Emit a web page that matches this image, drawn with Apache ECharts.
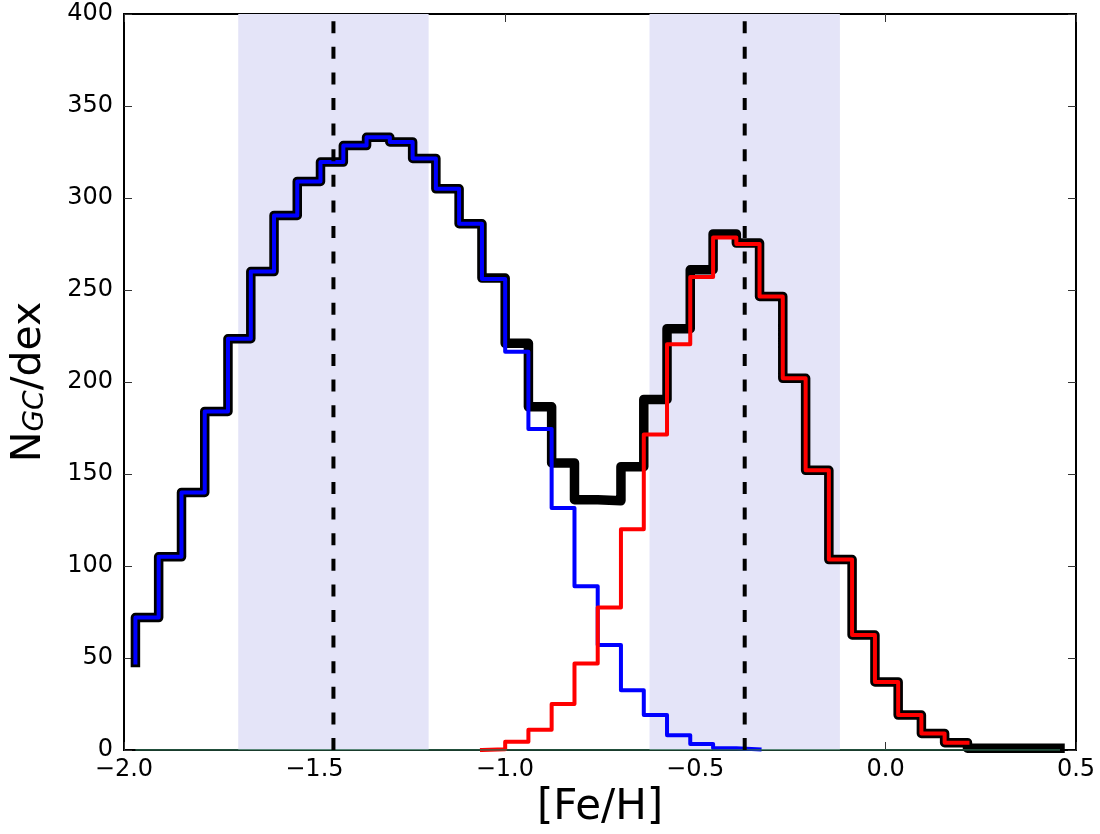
<!DOCTYPE html>
<html><head><meta charset="utf-8">
<script src="https://cdn.jsdelivr.net/npm/echarts@6/dist/echarts.min.js"></script>
<style>html,body{margin:0;padding:0;background:#fff}#c{width:1100px;height:834px}</style>
</head><body><div id="c"></div>
<script>
// Bin edges ([Fe/H])
const binEdges = [-1.970,-1.909,-1.849,-1.788,-1.727,-1.667,-1.606,-1.545,-1.484,-1.424,
  -1.363,-1.302,-1.242,-1.181,-1.120,-1.060,-0.999,-0.938,-0.877,-0.817,
  -0.756,-0.695,-0.635,-0.574,-0.513,-0.453,-0.392,-0.331,-0.270,-0.210,
  -0.149,-0.088,-0.028,0.033,0.094,0.155,0.215,0.276,0.337,0.397,0.458];
// Values at each edge (value of the bin ending at that edge), total sample
const totalValues = [47.5,72,105,140,184,223.5,260,290.5,309,319.5,328.5,333,330.5,321.5,305,286,
  256.5,221,186.5,156,136,135.5,154,190.5,229,261,280.5,275.5,246.5,202,152,103.5,62.5,37,19,9,4,1,1,1,1];
// Metal-poor (blue) component, from edge 0
const bluePointsStart = 0;
const blueValues = [47.5,72,105,140,184,223.5,260,290.5,309,319.5,328.5,333,330.5,321.5,305,286,
  256,216.5,174.5,131.5,89,57,32.5,19,8,3.3,1,0.3];
// Metal-rich (red) component, from edge 15
const redPointsStart = 15;
const redValues = [0,0.4,4.5,11,25,47,77.5,120,171.5,220.5,257,278.5,275,246.5,202,152,103.5,62.5,37,19,9,4];
// Shaded ranges and dashed peak markers
const shadedRanges = [[-1.70,-1.20],[-0.62,-0.12]];
const peakLines = [-1.45,-0.37];
const xTicks = {min:-2.0,max:0.5,interval:0.5};
const yTicks = {min:0,max:400,interval:50};

function pts(start, vals){ return vals.map((v,i)=>[binEdges[start+i], v]); }

const FONT = 'DejaVu Sans';
const fmtX = v => (v < -1e-9 ? '\u2212' : '') + Math.abs(v).toFixed(1);
const tick = {show:true, inside:true, length:8, lineStyle:{color:'#333', width:1}};

const chart = echarts.init(document.getElementById('c'), null, {renderer:'canvas'});
const series = [
  {type:'line', data:[], z:1, silent:true,
   markArea:{silent:true, itemStyle:{color:'#e4e4f8'},
     data: shadedRanges.map(r=>[{xAxis:r[0]},{xAxis:r[1]}])}},
  {type:'line', data:pts(0,totalValues), step:'start', symbol:'none', z:3,
   lineStyle:{color:'#000', width:9.5, cap:'square', join:'round'}},
  {type:'line', data:pts(bluePointsStart,blueValues), step:'start', symbol:'none', z:4,
   lineStyle:{color:'#0000ff', width:4, cap:'square', join:'round'}},
  {type:'line', data:pts(redPointsStart,redValues), step:'start', symbol:'none', z:5,
   lineStyle:{color:'#ff0000', width:4, cap:'square', join:'round'}},
  {type:'line', data:[[binEdges[0],0],[binEdges[binEdges.length-1],0]], symbol:'none', z:6,
   lineStyle:{color:'#2d6a4f', width:1.5}}
];
peakLines.forEach(x=>{
  series.push({type:'line', data:[[x,yTicks.min],[x,yTicks.max]], symbol:'none', z:7,
    lineStyle:{color:'#000', width:4, type:[12,13.6], cap:'butt'}});
});

chart.setOption({
  animation:false,
  backgroundColor:'#fff',
  grid:{left:124, right:24, top:14, bottom:84, show:true, borderColor:'#000', borderWidth:2, backgroundColor:'transparent'},
  xAxis:[
    {type:'value', min:xTicks.min, max:xTicks.max, interval:xTicks.interval, position:'bottom',
     splitLine:{show:false}, axisLine:{show:false, onZero:false}, axisTick:tick,
     axisLabel:{margin:8, formatter:fmtX, color:'#000', fontSize:24, fontFamily:FONT},
     name:'[Fe/H]', nameLocation:'middle', nameGap:31,
     nameTextStyle:{fontSize:42, fontFamily:FONT, color:'#000', verticalAlign:'top'}},
    {type:'value', min:xTicks.min, max:xTicks.max, interval:xTicks.interval, position:'top',
     splitLine:{show:false}, axisLine:{show:false, onZero:false}, axisLabel:{show:false}, axisTick:tick}
  ],
  yAxis:[
    {type:'value', min:yTicks.min, max:yTicks.max, interval:yTicks.interval, position:'left',
     splitLine:{show:false}, axisLine:{show:false, onZero:false}, axisTick:tick,
     axisLabel:{margin:11, color:'#000', fontSize:24, fontFamily:FONT},
     name:'{n|N}{s|GC}{n|/dex}', nameLocation:'middle', nameGap:74, nameRotate:90,
     nameTextStyle:{fontFamily:FONT, color:'#000',
       rich:{n:{fontSize:41, fontFamily:FONT, color:'#000', lineHeight:58, verticalAlign:'bottom'},
             s:{fontSize:28, fontFamily:FONT, fontStyle:'italic', color:'#000', lineHeight:28, verticalAlign:'bottom'}}}},
    {type:'value', min:yTicks.min, max:yTicks.max, interval:yTicks.interval, position:'right',
     splitLine:{show:false}, axisLine:{show:false, onZero:false}, axisLabel:{show:false}, axisTick:tick}
  ],
  series: series
});
</script></body></html>
